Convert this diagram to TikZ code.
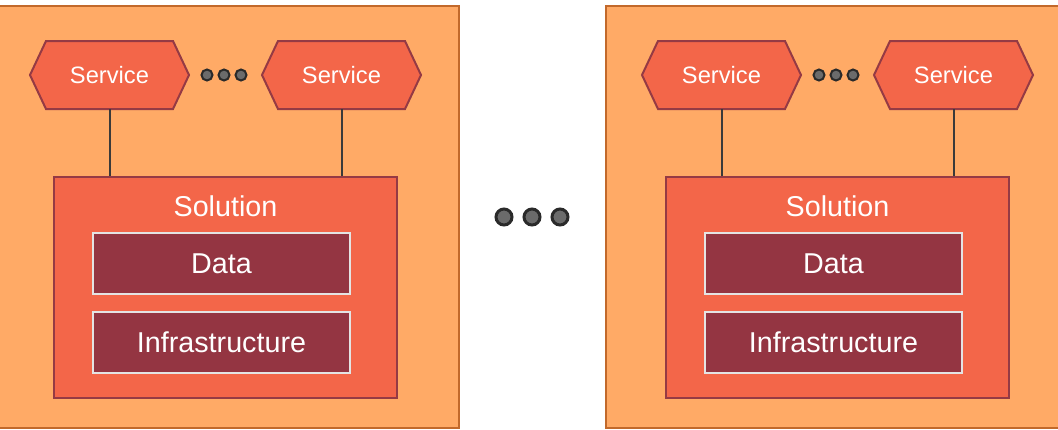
\documentclass[tikz,border=0pt]{standalone}
\usepackage{fontspec}
\setmainfont{Liberation Sans}
\definecolor{panelfill}{HTML}{FFAA66}
\definecolor{paneledge}{HTML}{C2692B}
\definecolor{boxfill}{HTML}{F36649}
\definecolor{boxedge}{HTML}{953A44}
\definecolor{layerfill}{HTML}{943542}
\definecolor{layeredge}{HTML}{E4E4E4}
\definecolor{wire}{HTML}{3A3A3A}
\definecolor{dotfill}{HTML}{6B6B6B}
\definecolor{dotedge}{HTML}{2A2A2A}
\tikzset{
  panel/.style={fill=panelfill, draw=paneledge, line width=2.5pt},
  hexshape/.style={fill=boxfill, draw=boxedge, line width=2pt, line join=miter},
  servtext/.style={text=white, font=\fontsize{23.7}{28}\selectfont, inner sep=0pt,
    minimum width=127pt, minimum height=68pt},
  solbox/.style={fill=boxfill, draw=boxedge, line width=2.5pt, minimum width=343pt,
    minimum height=221pt, inner sep=0pt},
  bigtext/.style={text=white, font=\fontsize{28.7}{34}\selectfont, inner sep=0pt},
  layerbox/.style={fill=layerfill, draw=layeredge, line width=2pt, minimum width=257pt,
    minimum height=61pt, inner sep=0pt, text=white, font=\fontsize{28.7}{34}\selectfont},
  wireline/.style={draw=wire, line width=2pt},
  smalldot/.style={circle, fill=dotfill, draw=dotedge, line width=2pt, minimum size=11pt, inner sep=0pt},
  bigdot/.style={circle, fill=dotfill, draw=dotedge, line width=3pt, minimum size=16pt, inner sep=0pt}
}
% hexagonal service badge: name, centre x, centre y
\newcommand\servicehex[3]{%
  \filldraw[hexshape] ({#2-79.5},#3) -- ({#2-63.5},{#3-34}) -- ({#2+63.5},{#3-34})
    -- ({#2+79.5},#3) -- ({#2+63.5},{#3+34}) -- ({#2-63.5},{#3+34}) -- cycle;
  \node[servtext] (#1) at (#2,#3) {Service};}
% one deployment panel with two services and a solution stack
\newcommand\deploypanel[1]{%
  \draw[panel] (-6,6) rectangle (459,428);
  \servicehex{#1sa}{109.5}{75}
  \servicehex{#1sb}{341.5}{75}
  \node[smalldot] (#1d1) at (207,75) {};
  \node[smalldot] (#1d2) at (224,75) {};
  \node[smalldot] (#1d3) at (241,75) {};
  \node[solbox] (#1sol) at (225.5,287.5) {};
  \node[bigtext] (#1soltxt) at (225.5,206) {Solution};
  \node[layerbox] (#1data) at (221.5,263.5) {Data};
  \node[layerbox] (#1infra) at (221.5,342.5) {Infrastructure};
  \draw[wireline] (#1sa.south) -- (#1sa.south |- #1sol.north);
  \draw[wireline] (#1sb.south) -- (#1sb.south |- #1sol.north);
}
\begin{document}
\begin{tikzpicture}[x=1pt, y=-1pt]
  \useasboundingbox[fill=white] (0,0) rectangle (1058,429);
  \begin{scope}
    \deploypanel{l}
  \end{scope}
  \begin{scope}[xshift=612pt]
    \deploypanel{r}
  \end{scope}
  \node[bigdot] (m1) at (504,217) {};
  \node[bigdot] (m2) at (532,217) {};
  \node[bigdot] (m3) at (560,217) {};
\end{tikzpicture}
\end{document}
